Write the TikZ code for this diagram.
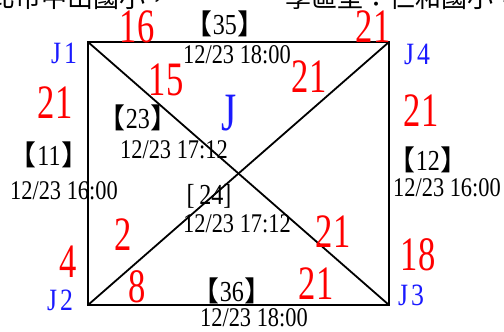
\documentclass[tikz,border=0pt]{standalone}
\usepackage{fontspec}
\setmainfont{Liberation Serif}[FakeStretch=0.83]
\newfontfamily\numfont{Liberation Serif}[FakeStretch=0.72]
\newfontfamily\cjk{Noto Sans CJK TC}
\usetikzlibrary{positioning}
\definecolor{wtred}{HTML}{FF0000}
\definecolor{jblue}{HTML}{1A1AFF}
\newcommand{\tagno}[1]{{\cjk\fontsize{28}{28}\selectfont\hspace{-0.36em}【\hspace{0.02em}}#1{\cjk\fontsize{28}{28}\selectfont\hspace{0.02em}】\hspace{-0.36em}}}

\begin{document}
\begin{tikzpicture}[x=1pt, y=-1pt,
  every node/.style={inner sep=0pt},
  edge/.style={line width=1.8pt, line cap=round},
  junction/.style={text=jblue, font=\fontsize{31}{31}\selectfont},
  weight/.style={text=wtred, font=\numfont\fontsize{48}{48}\selectfont},
  tag/.style={font=\fontsize{29}{29}\selectfont},
  stamp/.style={font=\fontsize{27}{27}\selectfont}
]
  \useasboundingbox (0,0) rectangle (504,332);
  \fill[white] (0,0) rectangle (504,332);

  % cut-off line of text above the figure
  \node[anchor=base east, font=\cjk\fontsize{26}{26}\selectfont] (capL) at (172,7) {以北市中山國小，};
  \node[anchor=base west, font=\cjk\fontsize{26}{26}\selectfont] (capR) at (285,7) {學區型：仁和國小，};

  % corners
  \coordinate (c1) at (88,42);
  \coordinate (c4) at (389,42);
  \coordinate (c2) at (88,305);
  \coordinate (c3) at (389,305);

  \draw[edge] (c1) -- (c4) -- (c3) -- (c2) -- cycle;
  \draw[edge] (c1) -- (c3);
  \draw[edge] (c4) -- (c2);

  % junction names
  \node[junction] (j1) at (64,53)  {J\kern3pt1};
  \node[junction] (j4) at (417,54) {J\kern3pt4};
  \node[junction] (j2) at (60,300) {J\kern3pt2};
  \node[junction] (j3) at (411,295) {J\kern3pt3};
  \node[junction, font=\numfont\fontsize{54}{54}\selectfont] (jc) at (229,113) {J};

  % counts
  \node[weight] (n16)  at (137,27)  {16};
  \node[weight] (n21t) at (373,27)  {21};
  \node[weight] (n21l) at (55,103)  {21};
  \node[weight] (n15)  at (166,80)  {15};
  \node[weight] (n21d) at (309,77)  {21};
  \node[weight] (n21r) at (421,111) {21};
  \node[weight] (n2)   at (123,235) {2};
  \node[weight] (n4)   at (68,262)  {4};
  \node[weight] (n8)   at (137,287) {8};
  \node[weight] (n21e) at (333,232) {21};
  \node[weight] (n21b) at (316,284) {21};
  \node[weight] (n18)  at (418,255) {18};

  % signal tags and times
  \node[tag]   (t35) at (230,24)  {\tagno{35}};
  \node[stamp] (s35) at (237,55)  {12/23 18:00};
  \node[tag]   (t23) at (143,118) {\tagno{23}};
  \node[stamp] (s23) at (174,150) {12/23 17:12};
  \node[tag]   (t11) at (54,155)  {\tagno{11}};
  \node[stamp] (s11) at (64,191)  {12/23 16:00};
  \node[tag]   (t24) at (209,196) {[\,24]};
  \node[stamp] (s24) at (237,224) {12/23 17:12};
  \node[tag]   (t12) at (433,160) {\tagno{12}};
  \node[stamp] (s12) at (447,188) {12/23 16:00};
  \node[tag]   (t36) at (237,291) {\tagno{36}};
  \node[stamp] (s36) at (254,318) {12/23 18:00};
\end{tikzpicture}
\end{document}
